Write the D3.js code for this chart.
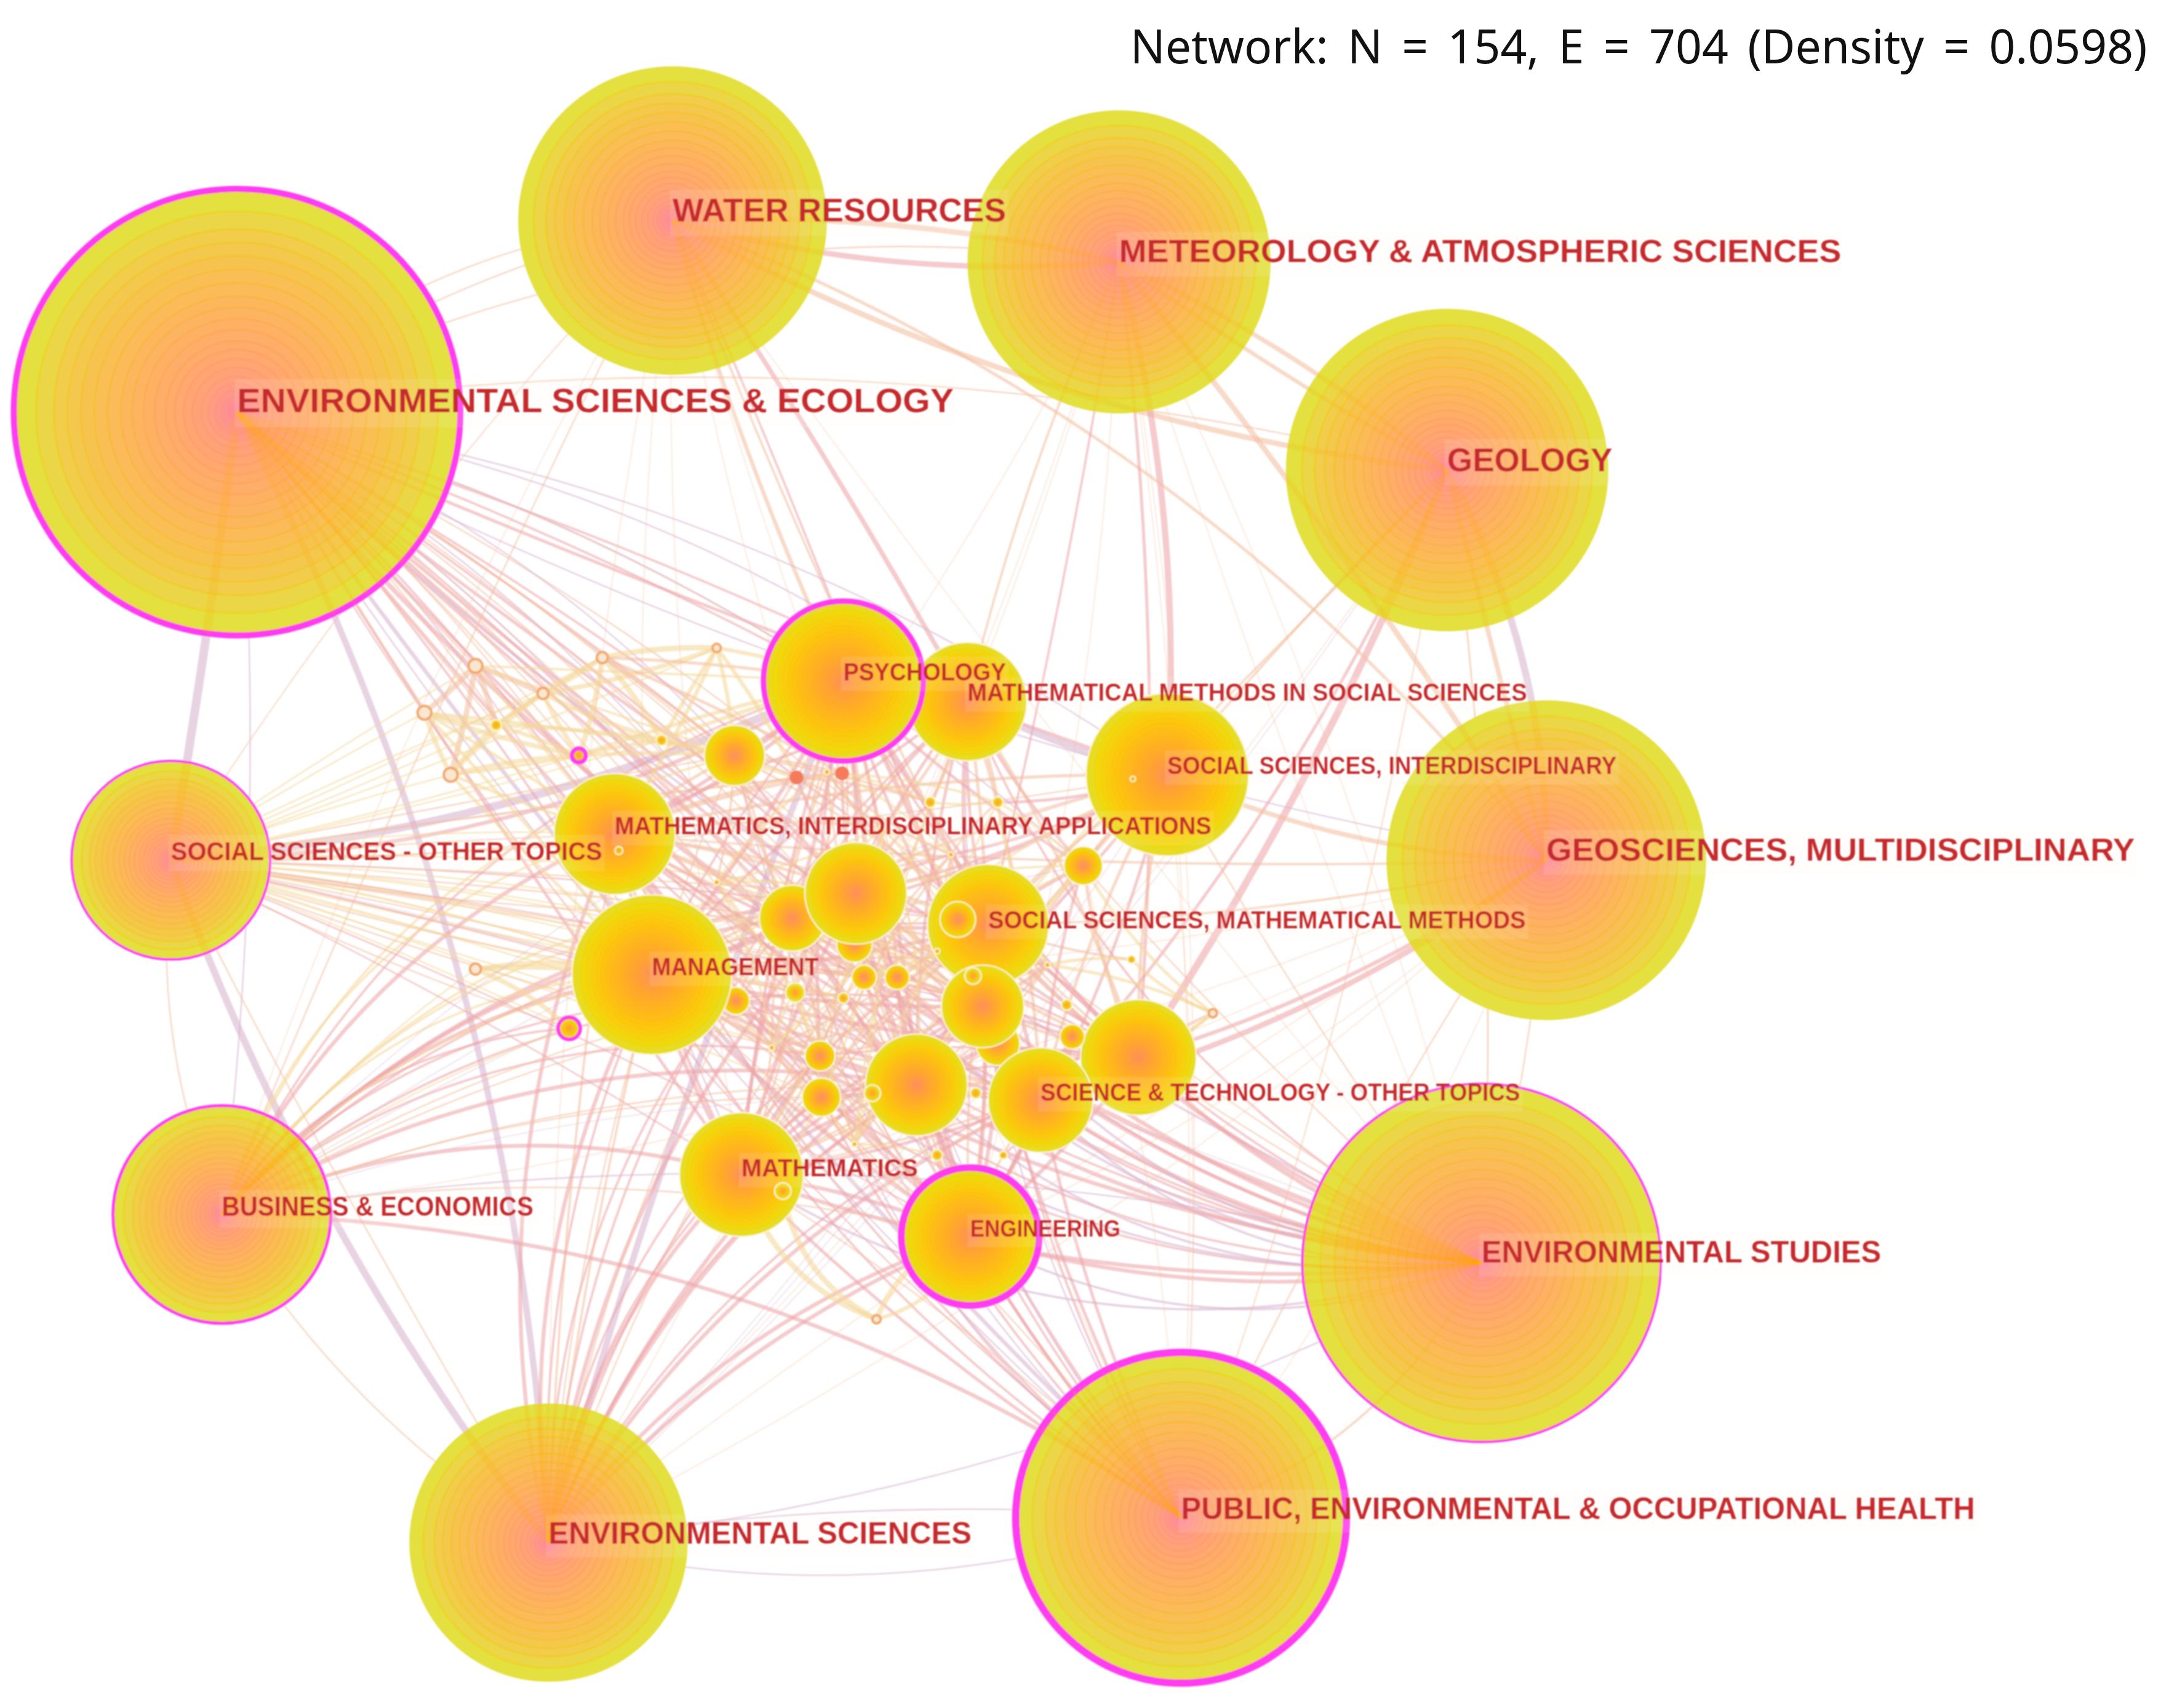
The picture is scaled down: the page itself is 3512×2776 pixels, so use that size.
<!DOCTYPE html>
<html>
  <head>
    <meta charset="utf-8" />
    <title>Network of research categories</title>
    <script src="https://d3js.org/d3.v7.min.js" charset="utf-8"></script>
    <style>
      html,
      body {
        margin: 0;
        padding: 0;
        background-color: white;
      }
    </style>
  </head>

  <body>
    <svg id="chart"></svg>

    <script>
      // SVG size
      const width = 3512;
      const height = 2776;

      const titleText = "Network: N = 154, E = 704 (Density = 0.0598)";

      // Node values in layout units
      const nodeNames = [
        "ENVIRONMENTAL SCIENCES & ECOLOGY", "WATER RESOURCES", "METEOROLOGY & ATMOSPHERIC SCIENCES", "GEOLOGY",
        "GEOSCIENCES, MULTIDISCIPLINARY", "ENVIRONMENTAL STUDIES", "PUBLIC, ENVIRONMENTAL & OCCUPATIONAL HEALTH",
        "ENVIRONMENTAL SCIENCES", "BUSINESS & ECONOMICS", "SOCIAL SCIENCES - OTHER TOPICS", "PSYCHOLOGY",
        "MATHEMATICAL METHODS IN SOCIAL SCIENCES", "SOCIAL SCIENCES, INTERDISCIPLINARY",
        "MATHEMATICS, INTERDISCIPLINARY APPLICATIONS", "SOCIAL SCIENCES, MATHEMATICAL METHODS", "MANAGEMENT",
        "SCIENCE & TECHNOLOGY - OTHER TOPICS", "MATHEMATICS", "ENGINEERING"
      ];
      const nodeX = [172, 488, 812, 1050, 1122, 1075, 857, 398, 161, 124, 612, 702, 847, 446, 717, 473, 755, 538, 704,
        826, 665, 713, 621, 575, 620, 533, 786, 595, 596, 534, 577, 627, 651, 612, 724, 778, 420, 413, 578, 611, 675, 724,
        345, 308, 327, 360, 394, 437, 480, 520, 345, 636, 695, 706, 633, 568, 449, 880, 708, 822, 680, 728, 774, 821,
        640, 690, 560, 620, 680, 760, 520, 600];
      const nodeY = [299, 160, 190, 341, 624, 916, 1101, 1119, 881, 624, 494, 509, 562, 605, 671, 707, 798, 852, 897,
        767, 787, 730, 648, 666, 685, 548, 628, 766, 796, 726, 720, 709, 709, 724, 757, 752, 548, 746, 564, 561, 582, 582,
        483, 517, 562, 526, 503, 477, 537, 470, 703, 957, 667, 708, 793, 864, 617, 735, 793, 565, 838, 838, 729, 696,
        600, 620, 760, 830, 690, 700, 640, 560];
      const nodeSize = [162, 112, 110, 117, 116, 130, 120, 101, 79, 72, 58, 43, 59, 44, 44, 58, 38, 45, 50,
        42, 37, 30, 37, 24, 13, 22, 14, 11, 14, 10, 7, 9, 9, 4, 16, 9, 5, 8, 5, 5, 4, 4,
        5, 5, 5, 4, 4, 4, 4, 3, 4, 3, 13, 6, 6, 6, 3, 3, 4, 2, 4, 3, 4, 3,
        2, 2, 2, 2, 2, 2, 2, 2];
      // thickness of the magenta centrality ring, listed nodes only
      const burstNodes = [0, 5, 6, 8, 9, 10, 18, 36, 37];
      const burstWidth = [10, 4, 12, 5, 4, 9, 11, 7, 6];
      // nodes that sit behind their neighbours, small open nodes, red nodes
      const backNodes = [11, 24, 34, 23, 19, 29, 35];
      const openNodes = [42, 43, 44, 46, 47, 49, 50, 51, 57];
      const redNodes = [38, 39];

      // Labels
      const labelY = [290, 152, 182, 333, 616, 908, 1094, 1112, 875, 617, 487, 502, 555, 599, 667, 701, 792, 847, 891];
      const labelWidth = [520, 242, 524, 120, 427, 290, 576, 307, 226, 313, 118, 406, 326, 433, 390, 121, 348, 128, 109];
      const labelFont = [56, 54, 52, 54, 52, 50, 50, 50, 44, 42, 40, 40, 40, 40, 40, 40, 40, 40, 38];

      // Ring radii as share of node radius, inner to outer
      const ringShare = [0.04, 0.07, 0.1, 0.13, 0.16, 0.2, 0.24, 0.28, 0.32, 0.37, 0.42, 0.47, 0.52, 0.58, 0.64, 0.7, 0.76, 0.82, 0.9, 1];
      const rampStops = [0, 0.05, 0.15, 0.3, 0.5, 0.7, 0.85, 0.93, 1];
      const bigRingColours = ["#ff7fa2", "#ff8e96", "#ffa07c", "#ffaa6c", "#fdb65e", "#f7c350", "#f0d04a", "#e8da44", "#e3e040"];
      const smallRingColours = ["#ff8c58", "#ff9448", "#ff9e34", "#ffaa24", "#ffb81a", "#fcc80c", "#f4d40c", "#eeda14", "#e8dc20"];
      const lineStops = [0, 0.3, 0.6, 1];
      const lineColours = ["#ff8c90", "#ff9a60", "#f9b820", "#f0d400"];

      // Edge colours by slice, oldest to newest
      const sliceColours = ["#d7b3cf", "#eda6a8", "#f3c0a0", "#f4d79a"];

      // Edge rows: source, targets, width, slice, bend
      const edgeRows = [
        [0, [9], 11, 0, 0.01], [9, [7], 9, 0, -0.08], [0, [7], 8, 0, 0.11], [7, [10], 8, 0, 0.03], [7, [18], 5, 1, 0.12],
        [1, [2], 7, 2, 0.07], [1, [2], 7, 1, -0.09], [1, [3], 7, 2, -0.1], [2, [3], 6, 2, 0.06], [2, [3], 5, 2, -0.03],
        [2, [4], 7, 2, 0.03], [3, [4], 9, 0, 0.13], [3, [4], 6, 2, 0], [2, [12], 8, 1, 0.08], [3, [19], 9, 1, 0.05],
        [3, [16], 4, 1, 0.08], [3, [14], 3, 2, 0.02], [3, [12], 3, 2, -0.02], [1, [11], 6, 1, 0.02], [1, [10], 5, 2, -0.04],
        [1, [4], 4, 2, 0.14], [1, [14], 3, 2, -0.03], [1, [21], 3, 1, 0.02], [2, [11], 3, 2, -0.05], [2, [14], 3, 1, 0.02],
        [2, [19], 4, 1, 0.05], [4, [16], 7, 1, 0.1], [4, [19], 5, 1, 0.08], [4, [12], 6, 2, 0.1], [4, [14], 3, 2, 0.05],
        [4, [13], 3, 2, 0.03], [11, [12], 9, 0, -0.06], [10, [13], 5, 1, 0.1], [9, [10], 10, 0, -0.09], [9, [10], 5, 1, -0.13],
        [0, [10, 11, 13, 15, 14, 22, 23, 25], 3, 1, 0.04], [0, [21, 20, 12, 16, 19, 17, 18, 34], 4, 1, -0.02],
        [0, [10, 13, 15, 22, 14, 20, 21, 27, 28, 30, 31, 32], 2, 2, 0.08], [0, [11, 12, 23, 25, 18, 17, 26], 2, 0, 0.12],
        [0, [5], 6, 1, -0.15], [0, [6], 5, 0, -0.05], [0, [5], 3, 0, -0.08], [0, [4], 2, 0, -0.08], [0, [6], 2, 1, -0.1],
        [0, [1], 2, 2, 0.09], [0, [1], 2, 2, 0.17], [0, [2], 2, 2, 0.16], [0, [3], 2, 2, 0.1], [0, [8], 2, 0, 0.05], [0, [42, 43, 45], 2, 2, 0],
        [5, [14, 15, 18, 16, 20, 19, 21, 17, 34], 5, 1, 0.12], [5, [23, 13, 22, 10, 11, 28, 27, 31, 32], 3, 1, 0.18],
        [5, [18, 20, 21, 17, 16, 24, 29], 3, 0, 0.23], [5, [14, 19, 26, 12], 2, 2, 0.03], [5, [3, 4], 2, 2, -0.05], [5, [2, 1], 1.5, 2, 0.02],
        [6, [18, 18, 20, 21, 16, 17], 4, 1, 0.06], [6, [14, 22, 15, 13, 23, 28], 3, 1, 0.12], [6, [10, 11, 25, 27], 2, 0, 0.16],
        [6, [5], 3, 2, -0.2], [6, [7], 2, 0, 0.14], [6, [4], 2, 2, 0.04], [6, [0], 2, 0, 0.07], [6, [17, 15], 2, 2, -0.05],
        [7, [17, 18, 15, 13, 20, 21, 16, 22], 5, 1, 0.16], [7, [14, 23, 28, 27, 19, 34, 10, 11], 3, 1, 0.2], [7, [25, 24, 29], 2, 2, 0.08],
        [7, [6], 2, 0, 0.06], [7, [5], 2, 0, -0.1], [7, [8], 2, 2, 0.12], [7, [9], 2, 2, 0.02], [7, [13, 15], 3, 2, 0.03], [7, [4], 1.5, 2, 0.02],
        [8, [15, 13, 17, 20, 23, 22], 5, 1, 0.18], [8, [14, 10, 37, 21, 29, 27], 3, 1, 0.22], [8, [15, 13, 23, 22, 25, 31], 3, 3, 0.26],
        [8, [28, 30, 33, 20, 18], 2, 2, 0.1], [8, [6], 5, 1, 0.15], [8, [9], 2, 2, 0.13], [8, [1], 2, 2, 0.02], [8, [5], 2, 0, 0.1], [8, [50, 37], 2, 3, 0.08],
        [9, [13, 15, 25, 22, 23, 30, 31, 32, 38, 39], 2, 2, 0.01], [9, [36, 45, 47, 48, 49, 29, 33, 27], 2, 3, -0.02], [9, [43, 42, 44, 46, 37, 28, 20], 2, 3, 0.02],
        [9, [15, 13, 22, 30, 29, 31, 32, 33, 24], 2, 3, 0.05], [9, [15, 13, 23, 27, 37], 2, 2, -0.04],
        [9, [14, 21, 17, 18, 16], 2, 1, 0.03], [9, [12], 2, 2, -0.04], [9, [5], 1.5, 0, 0.05], [9, [1], 1.5, 2, 0.05],
        [42, [43, 45, 44, 46], 7, 2, 0.03], [43, [45, 44, 36], 6, 3, -0.04], [44, [45, 46, 36], 6, 3, 0.05], [45, [46, 47, 36, 48], 5, 3, 0.03],
        [46, [47, 48, 36, 49], 6, 3, -0.05], [47, [48, 36, 49], 7, 3, 0.06], [48, [10, 25, 38, 49], 5, 3, 0.02], [36, [25, 10, 48], 5, 3, 0.03],
        [42, [10, 25, 13], 3, 3, 0], [43, [13, 25, 15], 4, 3, 0.02], [44, [15, 13, 36], 4, 3, -0.02], [47, [10, 25, 39], 4, 2, 0.03], [49, [10, 25, 13, 38], 5, 3, 0.05],
        [50, [37, 15, 29], 6, 3, 0.1], [51, [17, 18, 55], 7, 3, 0.25], [51, [18], 5, 3, -0.25],
        [10, [13, 15, 14, 22, 23, 25, 21, 20], 5, 1, 0.05], [10, [16, 17, 18, 19, 26, 27], 4, 1, -0.06], [10, [28, 29, 30, 31, 32, 34, 38, 39], 3, 2, 0.06],
        [11, [13, 14, 15, 22, 23, 21, 20, 26], 4, 1, -0.07], [11, [16, 19, 17, 18, 40, 41, 64], 4, 2, 0.07],
        [12, [13, 14, 15, 19, 16, 21, 20, 26], 4, 2, -0.06], [12, [18, 17, 22, 23, 41, 65], 4, 1, 0.08],
        [13, [15, 22, 23, 14, 21, 20, 25, 38, 39, 64], 4, 2, 0.06], [13, [16, 19, 17, 18, 27, 28, 31], 4, 1, -0.06],
        [14, [15, 22, 23, 20, 21, 26, 34, 19, 16], 5, 1, 0.06], [14, [17, 18, 27, 28, 31, 32, 62, 63, 68], 3, 2, -0.06],
        [15, [23, 22, 20, 21, 16, 17, 18, 19], 5, 1, -0.06], [15, [27, 28, 29, 30, 31, 32, 33, 66, 69], 3, 2, 0.06],
        [16, [19, 20, 21, 34, 35, 17, 18, 26], 4, 1, 0.06], [16, [22, 23, 27, 28, 60, 61, 58], 3, 2, -0.07],
        [17, [20, 21, 18, 22, 23, 27, 28], 5, 1, 0.07], [17, [19, 34, 55, 66, 30, 31, 32], 3, 2, -0.06],
        [18, [20, 21, 19, 22, 23, 34, 35, 28], 5, 1, -0.06], [18, [27, 31, 32, 30, 60, 61, 66, 67], 3, 2, 0.07],
        [19, [20, 21, 22, 26, 34, 35, 57, 62], 4, 2, 0.07], [19, [23, 27, 28, 31, 61, 68], 3, 1, -0.06],
        [20, [21, 22, 23, 27, 28, 31, 32, 34], 4, 1, 0.06], [21, [22, 23, 31, 32, 34, 67, 68, 69], 4, 2, -0.06],
        [22, [23, 25, 31, 32, 38, 39, 40, 64, 65], 4, 1, 0.06], [23, [25, 27, 29, 30, 31, 66, 69], 4, 2, 0.06],
        [25, [38, 39, 70, 69, 40, 30], 3, 2, 0.05], [26, [41, 68, 21, 20, 22], 3, 3, -0.06], [27, [28, 30, 33, 66, 67], 3, 2, 0.07],
        [28, [30, 67, 55, 58], 3, 3, -0.07], [38, [39, 40, 64, 70], 3, 2, 0.06], [39, [40, 41, 65], 3, 3, 0.06], [40, [41, 65, 67], 3, 3, -0.06],
        [64, [65, 67, 69, 70], 3, 3, 0.06], [65, [67, 68, 41], 3, 2, 0.07], [66, [67, 69, 68], 3, 2, -0.06], [67, [68, 60, 59], 3, 3, 0.06],
        [68, [41, 31, 32], 3, 3, 0.06], [69, [41, 57, 63], 4, 3, 0.08], [57, [16, 19, 63, 26], 4, 3, 0.1],
        [70, [71, 67, 66, 21, 14], 3, 3, 0.1], [71, [64, 65, 66, 14, 20], 3, 2, -0.1], [64, [15, 17, 28, 20, 21], 3, 3, 0.12],
        [65, [15, 17, 28, 16, 19], 3, 2, -0.1], [66, [13, 14, 22, 12], 3, 3, 0.1], [69, [17, 27, 20, 13], 3, 2, 0.12],
        [3, [6, 5, 7], 1.5, 2, 0.05], [2, [7, 6, 5, 15, 17, 18], 1.5, 2, 0.06], [1, [7, 17, 15, 9, 8, 6, 18], 1.5, 2, -0.05],
        [4, [7, 8, 15, 17, 18, 6], 1.5, 2, 0.07], [8, [12, 11, 16, 26], 1.5, 0, 0.1], [7, [12, 26, 3], 1.5, 0, -0.06], [6, [12, 26, 3, 2], 1.5, 2, -0.05]
      ];

      const toX = d3.scaleLinear().domain([0, 1568]).range([0, width]);
      const toY = d3.scaleLinear().domain([0, 1239]).range([0, height]);
      const toR = d3.scaleLinear().domain([0, 1568]).range([0, width]);
      const toWidth = d3.scaleLinear().domain([0, 11]).range([0, 14]);

      const bigRamp = d3.scaleLinear().domain(rampStops).range(bigRingColours);
      const smallRamp = d3.scaleLinear().domain(rampStops).range(smallRingColours);
      const lineRamp = d3.scaleLinear().domain(lineStops).range(lineColours);
      const edgeColour = d3.scaleOrdinal().domain([0, 1, 2, 3]).range(sliceColours);

      const nodes = nodeX.map((x, i) => ({
        i: i,
        x: toX(x),
        y: toY(nodeY[i]),
        r: toR(nodeSize[i]),
        big: i < 10,
        burst: burstNodes.includes(i) ? burstWidth[burstNodes.indexOf(i)] : 0,
      }));

      const drawOrder = backNodes
        .map((i) => nodes[i])
        .concat(nodes.filter((d) => !backNodes.includes(d.i)));

      const edges = edgeRows.flatMap((row) =>
        row[1].map((t) => ({ s: row[0], t: t, w: row[2], slice: row[3], bend: row[4] }))
      );

      // Curved link between two node centres
      function edgePath(d) {
        const a = nodes[d.s];
        const b = nodes[d.t];
        const dx = b.x - a.x;
        const dy = b.y - a.y;
        const p = d3.path();
        p.moveTo(a.x, a.y);
        p.quadraticCurveTo((a.x + b.x) / 2 + d.bend * dy, (a.y + b.y) / 2 - d.bend * dx, b.x, b.y);
        return p.toString();
      }

      const svg = d3
        .select("#chart")
        .attr("width", width)
        .attr("height", height)
        .style("display", "block")
        .style("background", "white");

      const defs = svg.append("defs");
      defs.append("filter").attr("id", "soft").append("feGaussianBlur").attr("stdDeviation", 1.2);
      defs
        .append("clipPath")
        .attr("id", "inNodes")
        .selectAll("circle")
        .data(nodes.slice(0, 10))
        .join("circle")
        .attr("cx", (d) => d.x)
        .attr("cy", (d) => d.y)
        .attr("r", (d) => d.r);

      const plotArea = svg.append("g").attr("filter", "url(#soft)");

      // Edges under the nodes, thin ones fainter
      plotArea
        .append("g")
        .attr("fill", "none")
        .selectAll("path")
        .data(edges)
        .join("path")
        .attr("d", edgePath)
        .attr("stroke", (d) => edgeColour(d.slice))
        .attr("stroke-width", (d) => toWidth(d.w))
        .attr("stroke-opacity", (d) => (d.w < 2 ? 0.35 : 0.58));

      // Nodes as rings of citation years
      const nodeGroups = plotArea
        .append("g")
        .selectAll("g")
        .data(drawOrder)
        .join("g")
        .attr("transform", (d) => `translate(${d.x},${d.y})`);

      nodeGroups.each(function (d) {
        const g = d3.select(this);
        if (openNodes.includes(d.i)) {
          g.append("circle").attr("r", d.r).attr("fill", "#fbe6cf").attr("stroke", "#f0aa70").attr("stroke-width", 4);
          return;
        }
        if (redNodes.includes(d.i)) {
          g.append("circle").attr("r", d.r).attr("fill", "#f47c5c");
          return;
        }
        const ramp = d.big ? bigRamp : smallRamp;
        const shares = d.r > 20 ? ringShare.slice().reverse() : [1, 0.6, 0.3];
        g.selectAll("circle")
          .data(shares)
          .join("circle")
          .attr("r", (s) => s * d.r)
          .attr("fill", (s) => ramp(s))
          .attr("stroke", (s) => (s === 1 ? "none" : lineRamp(s)))
          .attr("stroke-opacity", d.big ? 0.6 : 0.3)
          .attr("stroke-width", d.big ? 2.6 : 2);
        // magenta where centrality is high, a thin white line on the inner nodes
        if (d.burst > 0 || !d.big) {
          g.append("circle")
            .attr("r", d.r)
            .attr("fill", "none")
            .attr("stroke", d.burst > 0 ? "#ff3cf0" : "#fff6d8")
            .attr("stroke-width", d.burst > 0 ? d.burst : 2);
        }
      });

      // Links show through the big nodes as an orange fan
      plotArea
        .append("g")
        .attr("clip-path", "url(#inNodes)")
        .attr("fill", "none")
        .selectAll("path")
        .data(edges.filter((d) => d.w >= 3))
        .join("path")
        .attr("d", edgePath)
        .attr("stroke", "#ffa800")
        .attr("stroke-width", (d) => toWidth(d.w))
        .attr("stroke-opacity", 0.16);

      // Labels start at the node centre, on a pale band
      const labelled = nodeNames.map((name, i) => ({
        name: name,
        x: nodes[i].x,
        y: toY(labelY[i]),
        w: toX(labelWidth[i]),
        font: labelFont[i],
      }));

      const labelGroup = plotArea.append("g");

      labelGroup
        .selectAll("rect")
        .data(labelled)
        .join("rect")
        .attr("x", (d) => d.x - 4)
        .attr("y", (d) => d.y - d.font * 0.6)
        .attr("width", (d) => d.w + 8)
        .attr("height", (d) => d.font * 1.4)
        .attr("fill", "#fffbe8")
        .attr("fill-opacity", 0.13);

      labelGroup
        .selectAll("text")
        .data(labelled)
        .join("text")
        .attr("x", (d) => d.x)
        .attr("y", (d) => d.y)
        .attr("dy", "0.36em")
        .attr("textLength", (d) => d.w)
        .attr("lengthAdjust", "spacingAndGlyphs")
        .attr("font-family", "'Liberation Sans', Arial, sans-serif")
        .attr("font-weight", "bold")
        .attr("font-size", (d) => d.font)
        .attr("fill", "#c62a2f")
        .text((d) => d.name);

      // Title
      svg
        .append("text")
        .attr("x", toX(820))
        .attr("y", toY(46))
        .attr("textLength", toX(738))
        .attr("lengthAdjust", "spacingAndGlyphs")
        .attr("font-family", "'Noto Sans', sans-serif")
        .attr("font-size", 76)
        .attr("word-spacing", 12)
        .attr("fill", "#111")
        .text(titleText);
    </script>
  </body>
</html>
